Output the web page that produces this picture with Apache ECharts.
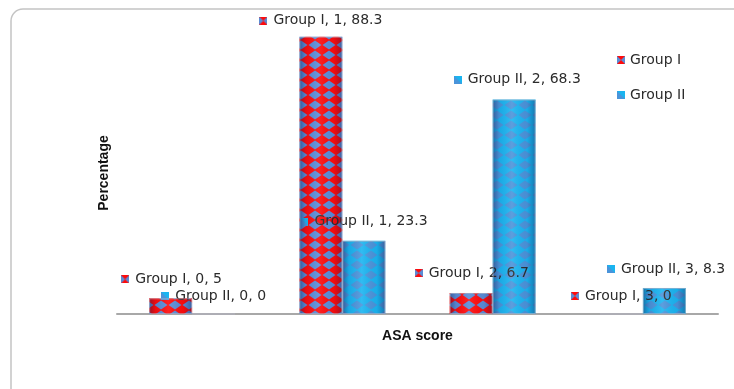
<!DOCTYPE html>
<html>
<head>
<meta charset="utf-8">
<title>ASA score</title>
<script src="https://cdn.jsdelivr.net/npm/echarts@6/dist/echarts.min.js"></script>
<style>
  html, body { margin: 0; padding: 0; background: #ffffff; }
  #chart { width: 734px; height: 389px; }
</style>
</head>
<body>
<div id="chart"></div>
<script>
// ASA score categories and the share of patients (%) in each group
const categories = ['0', '1', '2', '3'];
const seriesNames = ['Group I', 'Group II'];
const groupI = [5, 88.3, 6.7, 0];
const groupII = [0, 23.3, 68.3, 8.3];

// Label anchor offsets (px) from each bar's top-left corner
const labelOffsetsI = [[-28, -19], [-40, -16], [-35, -20], [-29, -18]];
const labelOffsetsII = [[-31, -18], [-42, -19], [-39, -20], [-36, -19]];

const PALETTE = {
  g1: { base: '#ff0a0a', diamond: '#5a8cd6' },
  g2: { base: '#1ab4f0', diamond: '#4a94da' }
};

// Harlequin tile: a diamond inscribed in each cell
function makePattern(base, diamond) {
  const w = 14, h = 10;
  const c = document.createElement('canvas');
  c.width = w; c.height = h;
  const ctx = c.getContext('2d');
  ctx.fillStyle = base;
  ctx.fillRect(0, 0, w, h);
  ctx.fillStyle = diamond;
  ctx.beginPath();
  ctx.moveTo(w / 2, 0.5);
  ctx.lineTo(w - 0.5, h / 2);
  ctx.lineTo(w / 2, h - 0.5);
  ctx.lineTo(0.5, h / 2);
  ctx.closePath();
  ctx.fill();
  return c;
}

// Small swatch used in the legend and in front of each data label
function makeSwatch(kind) {
  const s = 8;
  const c = document.createElement('canvas');
  c.width = s; c.height = s;
  const ctx = c.getContext('2d');
  if (kind === 1) {
    ctx.fillStyle = PALETTE.g1.diamond;
    ctx.fillRect(0, 0, s, s);
    ctx.fillStyle = PALETTE.g1.base;
    ctx.beginPath();
    ctx.moveTo(0, 0); ctx.lineTo(s, 0); ctx.lineTo(s / 2, s / 2); ctx.closePath();
    ctx.moveTo(0, s); ctx.lineTo(s, s); ctx.lineTo(s / 2, s / 2); ctx.closePath();
    ctx.fill();
  } else {
    ctx.fillStyle = PALETTE.g2.base;
    ctx.fillRect(0, 0, s, s);
    ctx.fillStyle = PALETTE.g2.diamond;
    ctx.beginPath();
    ctx.moveTo(0, 0); ctx.lineTo(0, s); ctx.lineTo(s, s); ctx.closePath();
    ctx.fill();
  }
  return c;
}

const pattern1 = makePattern(PALETTE.g1.base, PALETTE.g1.diamond);
const pattern2 = makePattern(PALETTE.g2.base, PALETTE.g2.diamond);
const swatch1 = makeSwatch(1);
const swatch2 = makeSwatch(2);

const FONT = 'DejaVu Sans';
const TEXT_COLOR = '#2b2b2b';
const BAR_WIDTH = 43;

function labelFor(swatch) {
  return {
    show: true,
    formatter: function (p) {
      return '{m|}{t|' + p.seriesName + ', ' + p.name + ', ' + p.value + '}';
    },
    rich: {
      m: { width: 8, height: 8, backgroundColor: { image: swatch } },
      t: { fontFamily: FONT, fontSize: 14, color: TEXT_COLOR, padding: [0, 0, 0, 6] }
    },
    align: 'left',
    verticalAlign: 'middle'
  };
}

function seriesData(values, offsets) {
  return values.map(function (v, i) {
    return { value: v, label: { position: offsets[i] } };
  });
}

// Horizontal cylinder shading laid over the patterned bars
const shade = {
  type: 'linear', x: 0, y: 0, x2: 1, y2: 0,
  colorStops: [
    { offset: 0, color: 'rgba(20,30,80,0.45)' },
    { offset: 0.15, color: 'rgba(20,30,80,0.08)' },
    { offset: 0.45, color: 'rgba(255,255,255,0.10)' },
    { offset: 0.8, color: 'rgba(20,30,80,0.05)' },
    { offset: 1, color: 'rgba(20,30,80,0.4)' }
  ]
};

const chart = echarts.init(document.getElementById('chart'), null, { renderer: 'canvas' });

const option = {
  animation: false,
  backgroundColor: '#ffffff',
  graphic: [{
    type: 'rect',
    silent: true,
    shape: { x: 11, y: 9, width: 760, height: 420, r: 12 },
    style: { fill: 'none', stroke: '#c4c4c4', lineWidth: 1.5 }
  }, {
    type: 'text',
    silent: true,
    x: 104,
    y: 173,
    rotation: Math.PI / 2,
    style: {
      text: 'Percentage',
      fontFamily: 'Liberation Sans',
      fontWeight: 'bold',
      fontSize: 14,
      fill: '#111',
      align: 'center',
      verticalAlign: 'middle'
    }
  }],
  legend: {
    orient: 'vertical',
    left: 612,
    top: 48,
    itemWidth: 8,
    itemHeight: 8,
    itemGap: 21,
    textStyle: { fontFamily: FONT, fontSize: 14, color: TEXT_COLOR },
    data: [
      { name: seriesNames[0], icon: 'image://' + swatch1.toDataURL() },
      { name: seriesNames[1], icon: 'image://' + swatch2.toDataURL() }
    ]
  },
  grid: { left: 117, right: 16, top: 0, bottom: 75, containLabel: false },
  xAxis: [{
    type: 'category',
    data: categories,
    name: 'ASA score',
    nameLocation: 'middle',
    nameGap: 15,
    nameTextStyle: { fontFamily: 'Liberation Sans', fontWeight: 'bold', fontSize: 14, color: '#111' },
    axisLine: { lineStyle: { color: '#a8a8a8', width: 2 } },
    axisTick: { show: false },
    axisLabel: { show: false }
  }, {
    type: 'category',
    data: categories,
    show: false
  }],
  yAxis: {
    type: 'value',
    min: 0,
    max: 100,
    show: false,
    splitLine: { show: false }
  },
  series: [{
    name: seriesNames[0],
    type: 'bar',
    xAxisIndex: 0,
    barWidth: BAR_WIDTH,
    barGap: '0%',
    data: seriesData(groupI, labelOffsetsI),
    itemStyle: { color: { image: pattern1, repeat: 'repeat' } },
    label: labelFor(swatch1)
  }, {
    name: seriesNames[1],
    type: 'bar',
    xAxisIndex: 0,
    barWidth: BAR_WIDTH,
    barGap: '0%',
    data: seriesData(groupII, labelOffsetsII),
    itemStyle: { color: { image: pattern2, repeat: 'repeat' } },
    label: labelFor(swatch2)
  }, {
    name: 'shade-1',
    type: 'bar',
    xAxisIndex: 1,
    barWidth: BAR_WIDTH,
    barGap: '0%',
    silent: true,
    z: 3,
    data: groupI,
    itemStyle: { color: shade, borderColor: 'rgba(180,180,195,0.6)', borderWidth: 1 }
  }, {
    name: 'shade-2',
    type: 'bar',
    xAxisIndex: 1,
    barWidth: BAR_WIDTH,
    barGap: '0%',
    silent: true,
    z: 3,
    data: groupII,
    itemStyle: { color: shade, borderColor: 'rgba(180,180,195,0.6)', borderWidth: 1 }
  }]
};

chart.setOption(option);
</script>
</body>
</html>
